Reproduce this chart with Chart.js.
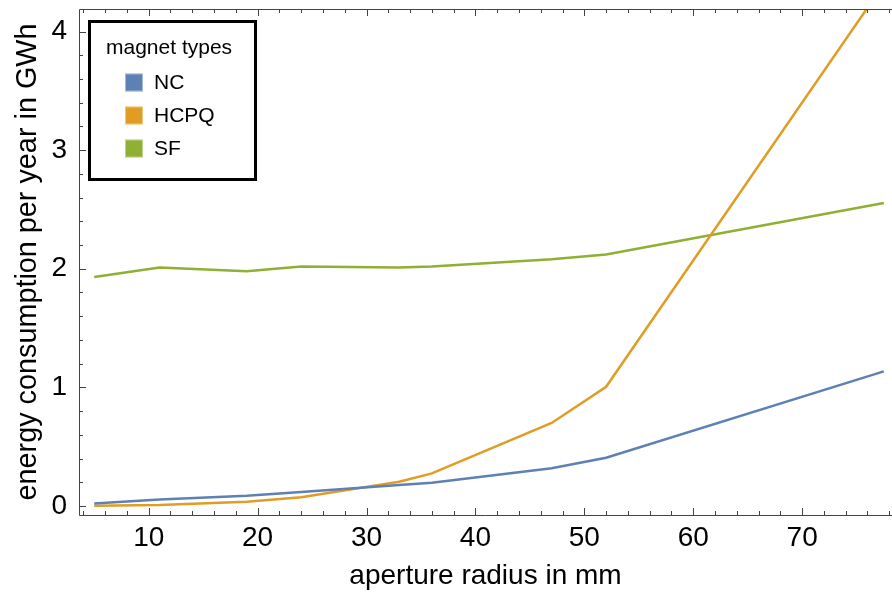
<!DOCTYPE html>
<html>
<head>
<meta charset="utf-8">
<script src="https://cdn.jsdelivr.net/npm/chart.js@4.4.0/dist/chart.umd.min.js"></script>
<style>
  body { margin: 0; background: #fff; }
  #wrap { width: 892px; height: 597px; }
</style>
</head>
<body>
<div id="wrap"><canvas id="myChart" width="892" height="597"></canvas></div>
<script>
// aperture radius in mm
const radius = [5, 11, 19, 24, 33, 36, 47, 52, 77.5];
// energy consumption per year in GWh
const nc   = [0.02, 0.055, 0.087, 0.118, 0.176, 0.196, 0.318, 0.407, 1.135];
const hcpq = [0.003, 0.008, 0.036, 0.073, 0.205, 0.275, 0.70, 1.005, 4.40];
const sf   = [1.93, 2.01, 1.98, 2.02, 2.01, 2.02, 2.08, 2.12, 2.555];

const seriesNames = ["NC", "HCPQ", "SF"];
const xTicks = [10, 20, 30, 40, 50, 60, 70];
const yTicks = [0, 1, 2, 3, 4];

const colors = ["#5E81B5", "#E19C24", "#8FB032"];
const FONT = "'Liberation Sans', Arial, sans-serif";

const toPoints = (ys) => radius.map((x, i) => ({ x: x, y: ys[i] }));

// frame with inward ticks (Mathematica style)
const framePlugin = {
  id: "frame",
  afterDraw(chart) {
    const { ctx, chartArea: a, scales } = chart;
    const xs = scales.x, ys = scales.y;
    ctx.save();
    ctx.strokeStyle = "#444";
    ctx.lineWidth = 1;
    ctx.beginPath();
    ctx.moveTo(a.left + 0.5, a.top + 0.5);
    ctx.lineTo(a.left + 0.5, a.bottom + 0.5);
    ctx.lineTo(a.right, a.bottom + 0.5);
    ctx.moveTo(a.left + 0.5, a.top + 0.5);
    ctx.lineTo(a.right, a.top + 0.5);
    ctx.stroke();

    ctx.beginPath();
    for (let v = 2; v <= 80; v += 2) {
      const px = Math.round(xs.getPixelForValue(v)) + 0.5;
      if (px < a.left || px > a.right) continue;
      const len = v % 10 === 0 ? 7 : 4;
      ctx.moveTo(px, a.bottom); ctx.lineTo(px, a.bottom - len);
      ctx.moveTo(px, a.top); ctx.lineTo(px, a.top + len);
    }
    for (let k = 0; k <= 21; k++) {
      const v = k * 0.2;
      const py = Math.round(ys.getPixelForValue(v)) + 0.5;
      if (py < a.top || py > a.bottom) continue;
      const len = k % 5 === 0 ? 7 : 4;
      ctx.moveTo(a.left, py); ctx.lineTo(a.left + len, py);
    }
    ctx.stroke();
    ctx.restore();
  }
};

// legend box in the upper left of the plot
const legendPlugin = {
  id: "boxLegend",
  afterDraw(chart) {
    const ctx = chart.ctx;
    ctx.save();
    ctx.fillStyle = "#fff";
    ctx.fillRect(89, 21, 166, 158);
    ctx.strokeStyle = "#000";
    ctx.lineWidth = 3;
    ctx.strokeRect(89.5, 21.5, 166, 158);
    ctx.fillStyle = "#000";
    ctx.textBaseline = "middle";
    ctx.font = "21px " + FONT;
    ctx.fillText("magnet types", 106, 48);
    chart.data.datasets.forEach((ds, i) => {
      const cy = 82.5 + i * 33;
      ctx.fillStyle = ds.borderColor;
      ctx.fillRect(125, cy - 9, 18, 18);
      ctx.strokeStyle = "rgba(255,255,255,0.45)";
      ctx.lineWidth = 1;
      ctx.strokeRect(125.5, cy - 8.5, 17, 17);
      ctx.fillStyle = "#000";
      ctx.fillText(ds.label, 154, cy + 1);
    });
    ctx.restore();
  }
};

const ctx = document.getElementById("myChart");

new Chart(ctx, {
  type: "line",
  data: {
    datasets: [
      { label: seriesNames[0], data: toPoints(nc), borderColor: colors[0] },
      { label: seriesNames[1], data: toPoints(hcpq), borderColor: colors[1] },
      { label: seriesNames[2], data: toPoints(sf), borderColor: colors[2] }
    ]
  },
  options: {
    responsive: false,
    animation: false,
    events: [],
    layout: { padding: { top: 9, right: 0, left: 0, bottom: 0 } },
    elements: {
      line: { borderWidth: 2.5, tension: 0, fill: false },
      point: { radius: 0 }
    },
    plugins: {
      legend: { display: false },
      tooltip: { enabled: false }
    },
    scales: {
      x: {
        type: "linear",
        min: 3.6,
        max: 78.25,
        afterBuildTicks: (s) => { s.ticks = xTicks.map(v => ({ value: v })); },
        afterFit: (s) => { s.height = 82; s.paddingLeft = 0; s.paddingRight = 0; },
        grid: { display: false, drawTicks: false },
        border: { display: false },
        ticks: { color: "#000", font: { size: 28, family: FONT }, padding: 6, maxRotation: 0 },
        title: { display: true, text: "aperture radius in mm", color: "#000", font: { size: 28, family: FONT }, padding: { top: 9 } }
      },
      y: {
        min: -0.076,
        max: 4.19,
        afterBuildTicks: (s) => { s.ticks = yTicks.map(v => ({ value: v })); },
        afterFit: (s) => { s.width = 79; s.paddingTop = 0; s.paddingBottom = 0; },
        grid: { display: false, drawTicks: false },
        border: { display: false },
        ticks: { color: "#000", font: { size: 28, family: FONT }, padding: 12 },
        title: { display: true, text: "energy consumption per year in GWh", color: "#000", font: { size: 28.8, family: FONT }, padding: { top: 11 } }
      }
    }
  },
  plugins: [framePlugin, legendPlugin]
});
</script>
</body>
</html>
